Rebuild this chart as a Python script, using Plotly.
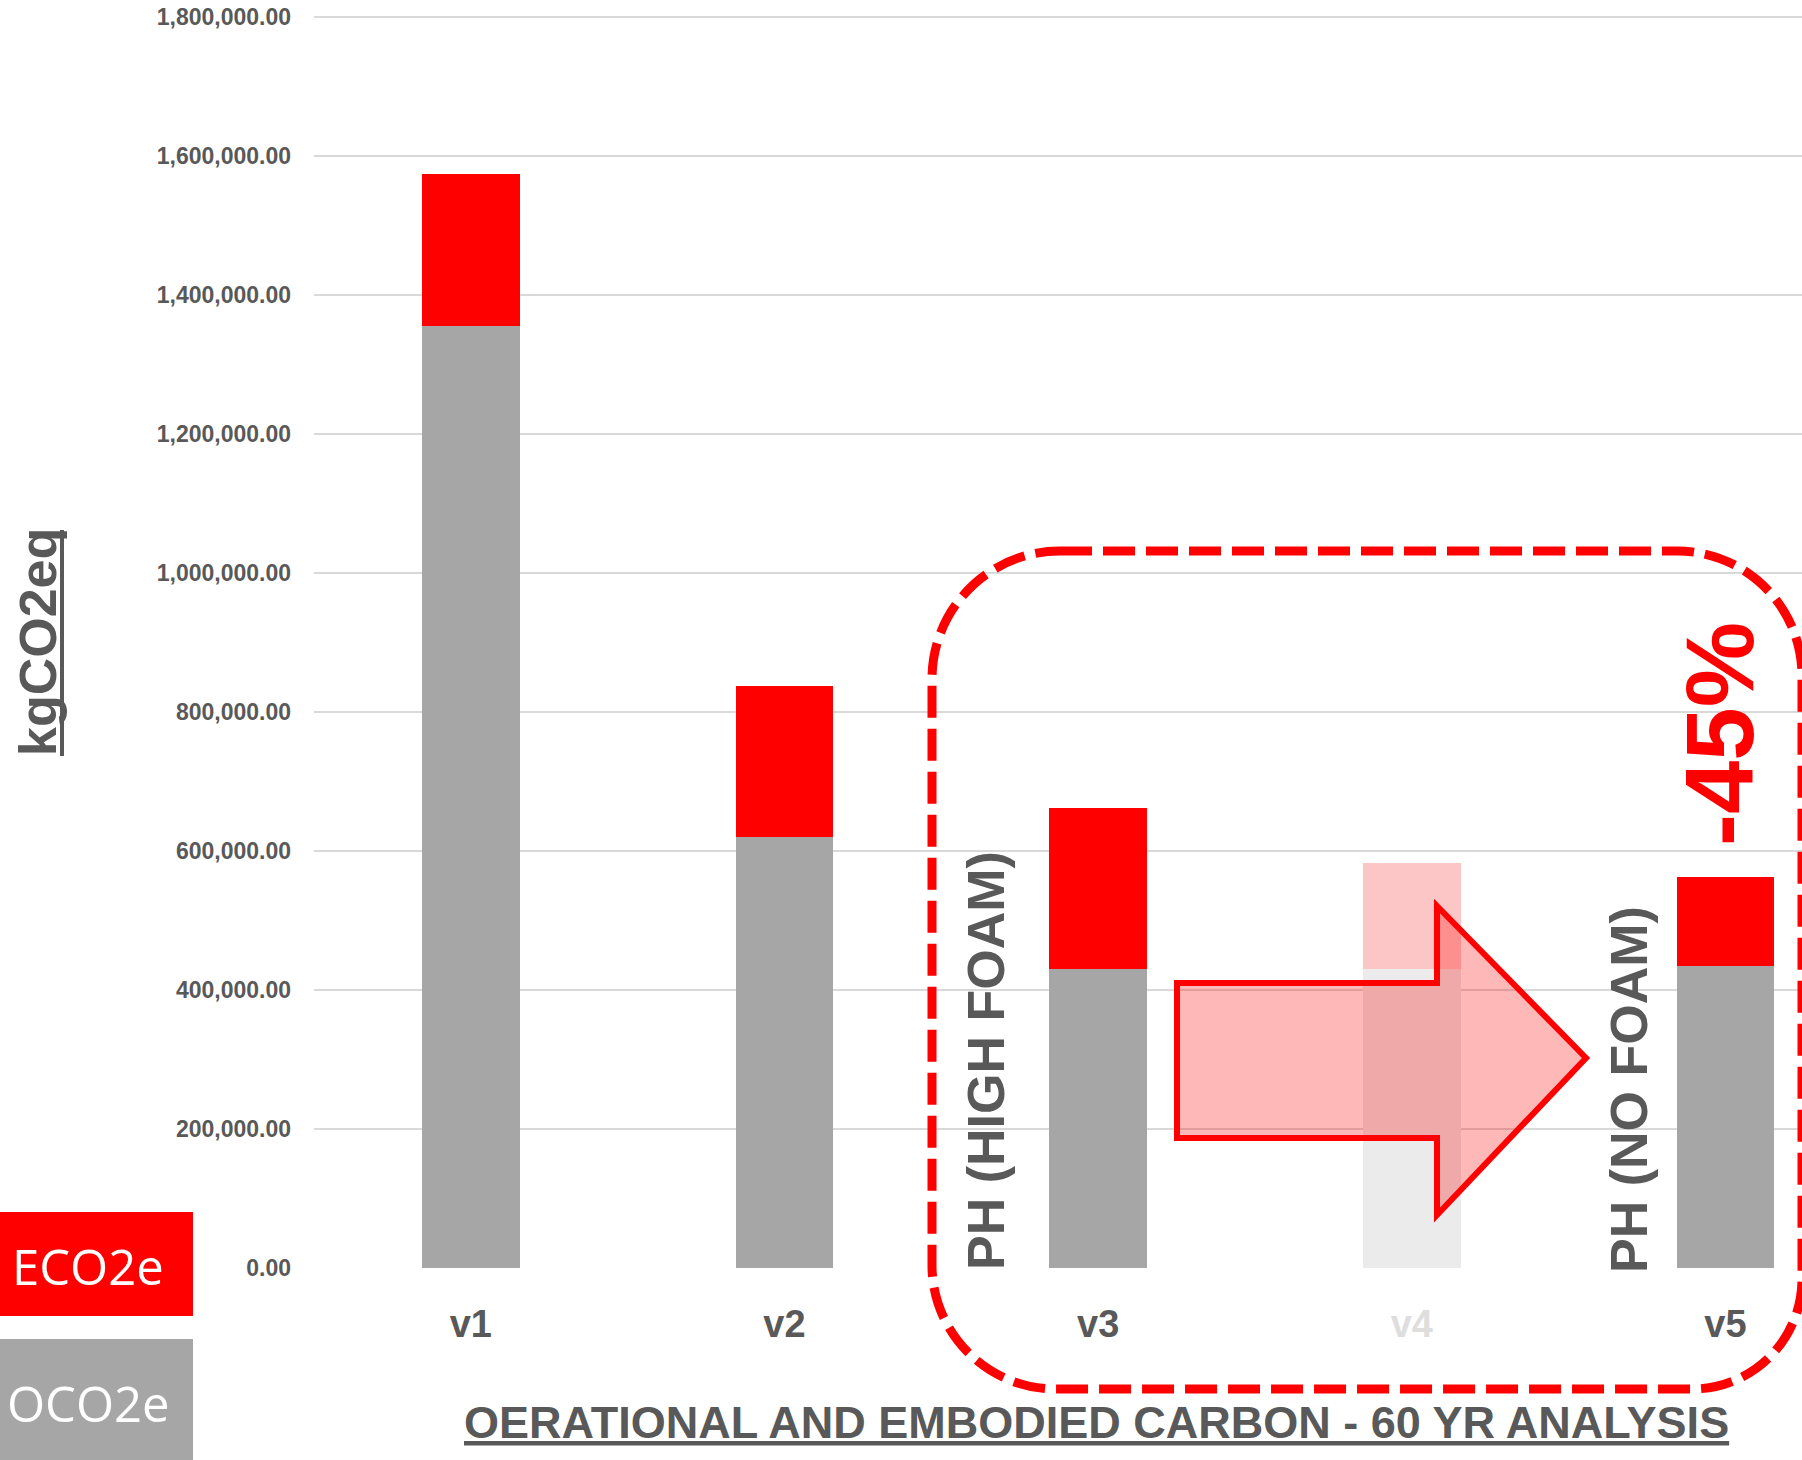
import plotly.graph_objects as go

# ---- data -------------------------------------------------------------
versions = ["v1", "v2", "v3", "v4", "v5"]
version_labels = ["v1", "v2", "v3", "<span style='color:#dedede'>v4</span>", "v5"]
oco2e = [1355000, 620000, 431000, 431000, 434000]   # operational carbon
eco2e = [220000, 217000, 231000, 152000, 129000]    # embodied carbon
y_ticks = [0, 200000, 400000, 600000, 800000, 1000000, 1200000, 1400000, 1600000, 1800000]

RED = "#ff0000"
GREY = "#a6a6a6"
TEXT = "#595959"
gray_colors = [GREY, GREY, GREY, "#ebebeb", GREY]
red_colors = [RED, RED, RED, "#fdc6c6", RED]

# ---- canvas geometry (pixels) -----------------------------------------
W_FIG, H_FIG = 1802, 1460
L, R, T, B = 314, 1802, 12, 1268
PW, PH = R - L, B - T
Y_TOP = 1800000 * (B - T) / (B - 17.2)   # keeps the 1.8M gridline a few px below the top


def fx(px):
    return (px - L) / PW


def fy(py):
    return (B - py) / PH


def path(points, close=True):
    s = "M " + " L ".join(f"{fx(x):.5f},{fy(y):.5f}" for x, y in points)
    return s + (" Z" if close else "")


def rounded_rect(x0, y0, x1, y1, rtl, rtr, rbr, rbl):
    k = 0.5523
    p = lambda x, y: f"{fx(x):.5f},{fy(y):.5f}"
    s = f"M {p(x0 + rtl, y0)} L {p(x1 - rtr, y0)} "
    s += f"C {p(x1 - rtr + k * rtr, y0)} {p(x1, y0 + rtr - k * rtr)} {p(x1, y0 + rtr)} "
    s += f"L {p(x1, y1 - rbr)} "
    s += f"C {p(x1, y1 - rbr + k * rbr)} {p(x1 - rbr + k * rbr, y1)} {p(x1 - rbr, y1)} "
    s += f"L {p(x0 + rbl, y1)} "
    s += f"C {p(x0 + rbl - k * rbl, y1)} {p(x0, y1 - rbl + k * rbl)} {p(x0, y1 - rbl)} "
    s += f"L {p(x0, y0 + rtl)} "
    s += f"C {p(x0, y0 + rtl - k * rtl)} {p(x0 + rtl - k * rtl, y0)} {p(x0 + rtl, y0)} Z"
    return s


fig = go.Figure()
fig.add_bar(x=versions, y=oco2e, name="OCO2e", marker=dict(color=gray_colors, line_width=0),
            hoverinfo="skip")
fig.add_bar(x=versions, y=eco2e, name="ECO2e", marker=dict(color=red_colors, line_width=0),
            hoverinfo="skip")

shapes = [
    # whitewash behind the de-emphasised v4 column
    dict(type="rect", xref="paper", yref="paper", x0=fx(1268), x1=fx(1586), y0=fy(845), y1=fy(1271),
         fillcolor="rgba(255,255,255,0.8)", line_width=0, layer="between"),
    # arrow from v3 to v5
    dict(type="path", xref="paper", yref="paper", layer="above",
         path=path([(1177, 983), (1437, 983), (1437, 906), (1586, 1058),
                    (1437, 1215), (1437, 1138), (1177, 1138)]),
         fillcolor="rgba(255,0,0,0.28)", line=dict(color=RED, width=6)),
    # dashed highlight box
    dict(type="path", xref="paper", yref="paper", layer="above",
         path=rounded_rect(932, 551, 1802, 1389, 128, 125, 110, 124),
         line=dict(color=RED, width=9, dash="32px,11px")),
    # underline of the y-axis title
    dict(type="line", xref="paper", yref="paper", x0=fx(62), x1=fx(62), y0=fy(530), y1=fy(756),
         line=dict(color=TEXT, width=4)),
    # legend swatches
    dict(type="rect", xref="paper", yref="paper", x0=fx(0), x1=fx(193), y0=fy(1212), y1=fy(1316),
         fillcolor=RED, line_width=0),
    dict(type="rect", xref="paper", yref="paper", x0=fx(0), x1=fx(193), y0=fy(1339), y1=fy(1462),
         fillcolor=GREY, line_width=0),
]

annotations = [
    dict(text="kgCO2eq", x=fx(38), y=fy(642), textangle=-90,
         font=dict(family="Liberation Sans", size=52, weight="bold", color=TEXT)),
    dict(text="OERATIONAL AND EMBODIED CARBON - 60 YR ANALYSIS", x=fx(1096), y=fy(1422),
         font=dict(family="Liberation Sans", size=45, weight="bold",
                   color=TEXT, lineposition="under")),
    dict(text="PH (HIGH FOAM)", x=fx(986), y=fy(1061), textangle=-90,
         font=dict(family="Liberation Sans", size=52, weight="bold", color=TEXT)),
    dict(text="PH (NO FOAM)", x=fx(1629), y=fy(1090), textangle=-90,
         font=dict(family="Liberation Sans", size=52, weight="bold", color=TEXT)),
    dict(text="-45%", x=fx(1720), y=fy(734), textangle=-90,
         font=dict(family="Liberation Sans", size=96, weight="bold", color=RED)),
    dict(text="ECO2e", x=fx(10), y=fy(1266), xanchor="left",
         font=dict(family="Open Sans", size=49, color="white")),
    dict(text="OCO2e", x=fx(5), y=fy(1403), xanchor="left",
         font=dict(family="Open Sans", size=49, color="white")),
]
for a in annotations:
    a.setdefault("xanchor", "center")
    a.update(xref="paper", yref="paper", yanchor="middle", showarrow=False)

fig.update_layout(
    width=W_FIG, height=H_FIG,
    margin=dict(l=L, r=W_FIG - R, t=T, b=H_FIG - B, autoexpand=False),
    paper_bgcolor="white", plot_bgcolor="white",
    barmode="stack", bargap=0.689, showlegend=False,
    shapes=shapes, annotations=annotations,
    font=dict(family="Liberation Sans", color=TEXT),
)
fig.update_xaxes(
    range=[-0.5, 4.244], tickvals=versions, ticktext=version_labels,
    showgrid=False, showline=False, zeroline=False, ticks="",
    tickfont=dict(size=38, weight="bold", color=TEXT), ticklabelstandoff=30,
)
fig.update_yaxes(
    range=[0, Y_TOP], tickvals=y_ticks, tickformat=",.2f",
    showgrid=True, gridcolor="#d9d9d9", gridwidth=2,
    showline=False, zeroline=False, ticks="",
    tickfont=dict(size=23, weight="bold", color=TEXT), ticklabelstandoff=22,
)

fig.write_html("out.html")
